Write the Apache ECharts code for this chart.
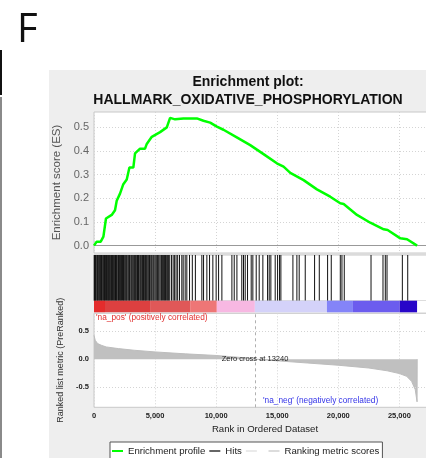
<!DOCTYPE html>
<html>
<head>
<meta charset="utf-8">
<script src="https://cdn.jsdelivr.net/npm/echarts@6/dist/echarts.min.js"></script>
<style>
html, body { margin: 0; padding: 0; background: #fff; }
#chart { width: 426px; height: 458px; }
</style>
</head>
<body>
<div id="chart"></div>
<script>
const FONT = "'Liberation Sans', Arial, sans-serif";

// running enrichment score
const esRanks = [0, 220, 550, 770, 980, 1450, 1720, 1860, 2130, 2400, 2680, 2900, 3220, 3360, 3770, 4180, 4320, 4730, 5410, 5960, 6230, 6640, 7320, 8420, 8960, 9510, 10060, 10600, 11690, 12790, 13880, 14970, 15520, 16070, 17160, 18250, 19340, 20160, 20440, 21530, 22620, 23720, 24040, 25080, 25630, 26450];
const esScores = [0, 0.017, 0.017, 0.038, 0.115, 0.13, 0.15, 0.19, 0.22, 0.26, 0.28, 0.33, 0.33, 0.39, 0.41, 0.41, 0.43, 0.46, 0.48, 0.50, 0.54, 0.534, 0.538, 0.538, 0.528, 0.52, 0.503, 0.49, 0.458, 0.425, 0.387, 0.348, 0.334, 0.308, 0.277, 0.238, 0.207, 0.179, 0.176, 0.13, 0.097, 0.069, 0.066, 0.031, 0.027, 0];

// positions of gene set members in the ranked list
const hitRanks = [
  20, 45, 90, 130, 180, 260, 300, 350, 420, 470, 540, 610, 650, 720, 790, 850, 880, 950,
  1020, 1090, 1150, 1200, 1260, 1330, 1390, 1440, 1520, 1580, 1640, 1700, 1760, 1830, 1870, 1950,
  2010, 2080, 2150, 2200, 2260, 2330, 2410, 2450, 2520, 2600, 2640, 2700, 2780, 2850, 2900, 2960,
  3050, 3110, 3180, 3260, 3300, 3370, 3420, 3500, 3560, 3640, 3700, 3790, 3850, 3920, 3980,
  4050, 4120, 4200, 4240, 4310, 4400, 4480, 4540, 4600, 4690, 4760, 4850, 4920,
  5010, 5100, 5190, 5260, 5330, 5420, 5520, 5600, 5700, 5780, 5850, 5950, 6030, 6110, 6200,
  6350, 6480, 6600, 6720, 6850, 7000, 7190, 7300, 7465, 7600, 7820, 8050, 8300,
  8830, 8970, 9240, 9460, 9730, 10000, 10200, 10470, 11290, 11480, 11700, 12100, 12240, 12380, 12570, 12870,
  13005, 13280, 13525, 13825, 14210, 14345, 14480, 14835, 15030, 15190, 15300, 16285, 16610, 16800, 17295,
  18060, 18445, 19125, 19425, 20165, 20300, 20490, 22680, 23660, 23850, 23990, 25245, 25685
];

// ranking metric colour bar
const barStart = [0, 900, 4590, 7870, 10055, 13170, 19070, 21200, 25030];
const barEnd = [900, 4590, 7870, 10055, 13170, 19070, 21200, 25030, 26450];
const barColors = ['#e42c2c', '#dc4040', '#e05858', '#ee7676', '#f7b8e2', '#d4d2f9', '#8484f8', '#6c5cee', '#2806c8'];

// ranked list metric
const metricRanks = [0, 100, 300, 600, 1000, 2000, 3300, 5000, 7500, 10000, 12000, 13240, 15000, 17500, 20000, 22500, 24000, 25000, 25600, 26000, 26300, 26450, 26460];
const metricValues = [0.43, 0.34, 0.28, 0.25, 0.22, 0.19, 0.16, 0.13, 0.095, 0.066, 0.03, 0, -0.03, -0.07, -0.11, -0.16, -0.21, -0.26, -0.31, -0.40, -0.55, -0.77, 0];

const zeroCross = 13240;
const esTicks = [0, 0.1, 0.2, 0.3, 0.4, 0.5];
const metricTicks = [-0.5, 0, 0.5];
const xMax = 28000;

const chart = echarts.init(document.getElementById('chart'));

const plotLeft = 94;
const plotWidth = 342;

const fmtX = (v) => v.toLocaleString('en-US');

const xAxes = [0, 1, 2, 3].map((i) => ({
  type: 'value',
  gridIndex: i,
  min: 0,
  max: xMax,
  interval: 5000,
  axisLine: { show: false },
  axisTick: { show: false },
  axisLabel: {
    show: i === 3,
    showMaxLabel: false,
    formatter: fmtX,
    fontSize: 7.5,
    fontWeight: 'bold',
    color: '#222',
    fontFamily: FONT,
    margin: 5
  },
  splitLine: { show: i === 0 || i === 3, lineStyle: { type: [1, 2], color: '#d4d4d4' } },
  name: i === 3 ? 'Rank in Ordered Dataset' : '',
  nameLocation: 'middle',
  nameGap: 17,
  nameTextStyle: { fontSize: 9.6, color: '#222', fontFamily: FONT }
}));

const gridBase = { left: plotLeft, width: plotWidth, show: true, backgroundColor: '#fff', borderColor: '#c8c8c8', borderWidth: 1, outerBoundsMode: 'none' };

chart.setOption({
  animation: false,
  title: {
    text: 'Enrichment plot:\nHALLMARK_OXIDATIVE_PHOSPHORYLATION',
    left: 243,
    top: 68,
    textAlign: 'center',
    textStyle: { fontSize: 14, fontWeight: 'bold', color: '#111', lineHeight: 18, fontFamily: FONT }
  },
  graphic: [
    { type: 'rect', z: -10, shape: { x: 49, y: 70, width: 377, height: 388 }, style: { fill: '#eeeeee' } },
    { type: 'rect', z: -10, shape: { x: 0, y: 50, width: 2, height: 45 }, style: { fill: '#111' } },
    { type: 'rect', z: -10, shape: { x: 0, y: 97, width: 2, height: 361 }, style: { fill: '#8a8a8a' } },
    { type: 'text', left: 17, top: 11, style: { text: 'F', font: "40px 'Open Sans', sans-serif", fill: '#111' } },
    { type: 'text', x: 96, y: 318, style: { text: "'na_pos' (positively correlated)", font: '8.3px ' + FONT, fill: '#e03030', verticalAlign: 'middle' } },
    { type: 'text', x: 255, y: 359, style: { text: 'Zero cross at ' + zeroCross, font: '7.5px ' + FONT, fill: '#222', align: 'center', verticalAlign: 'middle' }, z: 10 },
    { type: 'text', x: 263, y: 401, style: { text: "'na_neg' (negatively correlated)", font: '8.3px ' + FONT, fill: '#3434e8', verticalAlign: 'middle' } }
  ],
  legend: {
    left: 110,
    top: 442,
    itemWidth: 11,
    itemHeight: 2,
    itemGap: 4,
    padding: [4, 3, 4, 2],
    borderColor: '#555',
    borderWidth: 1,
    borderRadius: 0,
    backgroundColor: '#fff',
    selectedMode: false,
    textStyle: { fontSize: 9.6, color: '#222', fontFamily: FONT },
    data: [
      { name: 'Enrichment profile', icon: 'rect', itemStyle: { color: '#00ff00' } },
      { name: 'Hits', icon: 'rect', itemStyle: { color: '#666' } },
      { name: ' ', icon: 'rect', itemStyle: { color: '#eaeaea' } },
      { name: 'Ranking metric scores', icon: 'rect', itemStyle: { color: '#dcdcdc' } }
    ]
  },
  grid: [
    Object.assign({}, gridBase, { top: 112, height: 141 }),
    Object.assign({}, gridBase, { top: 255, height: 45.7 }),
    Object.assign({}, gridBase, { top: 300.7, height: 11.6, borderWidth: 0 }),
    Object.assign({}, gridBase, { top: 313.3, height: 94 })
  ],
  xAxis: xAxes,
  yAxis: [
    {
      type: 'value', gridIndex: 0, min: -0.031, max: 0.565,
      axisLine: { show: false }, axisTick: { show: false }, splitLine: { show: false },
      axisLabel: { customValues: esTicks, formatter: (v) => v.toFixed(1), fontSize: 11, color: '#666', fontFamily: FONT, margin: 5 },
      name: 'Enrichment score (ES)', nameLocation: 'middle', nameGap: 23.5,
      nameTextStyle: { fontSize: 11.5, color: '#555', fontFamily: FONT }
    },
    { type: 'value', gridIndex: 1, min: 0, max: 1, show: false },
    { type: 'value', gridIndex: 2, min: 0, max: 1, show: false },
    {
      type: 'value', gridIndex: 3, min: -0.869, max: 0.827,
      axisLine: { show: false }, axisTick: { show: false }, splitLine: { show: false },
      axisLabel: { customValues: metricTicks, formatter: (v) => v.toFixed(1), fontSize: 7.5, fontWeight: 'bold', color: '#222', fontFamily: FONT, margin: 5 },
      name: 'Ranked list metric (PreRanked)', nameLocation: 'middle', nameGap: 24.5,
      nameTextStyle: { fontSize: 9, color: '#333', fontFamily: FONT }
    }
  ],
  series: [
    {
      name: 'Enrichment profile',
      type: 'line',
      xAxisIndex: 0,
      yAxisIndex: 0,
      symbol: 'none',
      z: 4,
      lineStyle: { color: '#00ff00', width: 2.5 },
      itemStyle: { color: '#00ff00' },
      data: esRanks.map((r, i) => [r, esScores[i]]),
      markLine: {
        silent: true,
        symbol: 'none',
        z: 1,
        label: { show: false },
        lineStyle: { type: [1, 2], color: '#d4d4d4', width: 1 },
        data: esTicks.filter((v) => v !== 0).map((v) => ({ yAxis: v }))
          .concat([{ yAxis: 0, lineStyle: { type: 'solid', color: '#999', width: 1 } }])
      }
    },
    {
      name: 'Hits',
      type: 'custom',
      xAxisIndex: 1,
      yAxisIndex: 1,
      itemStyle: { color: '#666' },
      encode: { x: 0, y: 1 },
      data: hitRanks.map((r) => [r, 1]),
      renderItem: (params, api) => {
        const top = api.coord([api.value(0), 1]);
        const bottom = api.coord([api.value(0), 0]);
        return {
          type: 'line',
          shape: { x1: top[0], y1: top[1], x2: bottom[0], y2: bottom[1] },
          style: { stroke: '#111', lineWidth: 1 }
        };
      }
    },
    {
      name: ' ',
      type: 'custom',
      xAxisIndex: 2,
      yAxisIndex: 2,
      itemStyle: { color: '#eaeaea' },
      encode: { x: [0, 1] },
      data: barStart.map((s, i) => [s, barEnd[i], i]),
      renderItem: (params, api) => {
        const p0 = api.coord([api.value(0), 1]);
        const p1 = api.coord([api.value(1), 0]);
        return {
          type: 'rect',
          shape: { x: p0[0], y: p0[1], width: p1[0] - p0[0], height: p1[1] - p0[1] },
          style: { fill: barColors[api.value(2)] }
        };
      }
    },
    {
      name: 'Ranking metric scores',
      type: 'line',
      xAxisIndex: 3,
      yAxisIndex: 3,
      symbol: 'none',
      lineStyle: { color: '#bdbdbd', width: 1 },
      itemStyle: { color: '#dcdcdc' },
      areaStyle: { color: '#c0c0c0', opacity: 1 },
      data: metricRanks.map((r, i) => [r, metricValues[i]]),
      markLine: {
        silent: true,
        symbol: 'none',
        label: { show: false },
        data: [
          { xAxis: zeroCross, lineStyle: { type: [3, 3], color: '#b0b0b0', width: 1 } },
          ...metricTicks.filter((v) => v !== 0).map((v) => ({ yAxis: v, lineStyle: { type: [1, 2], color: '#d4d4d4', width: 1 } }))
        ]
      }
    }
  ]
});
</script>
</body>
</html>
